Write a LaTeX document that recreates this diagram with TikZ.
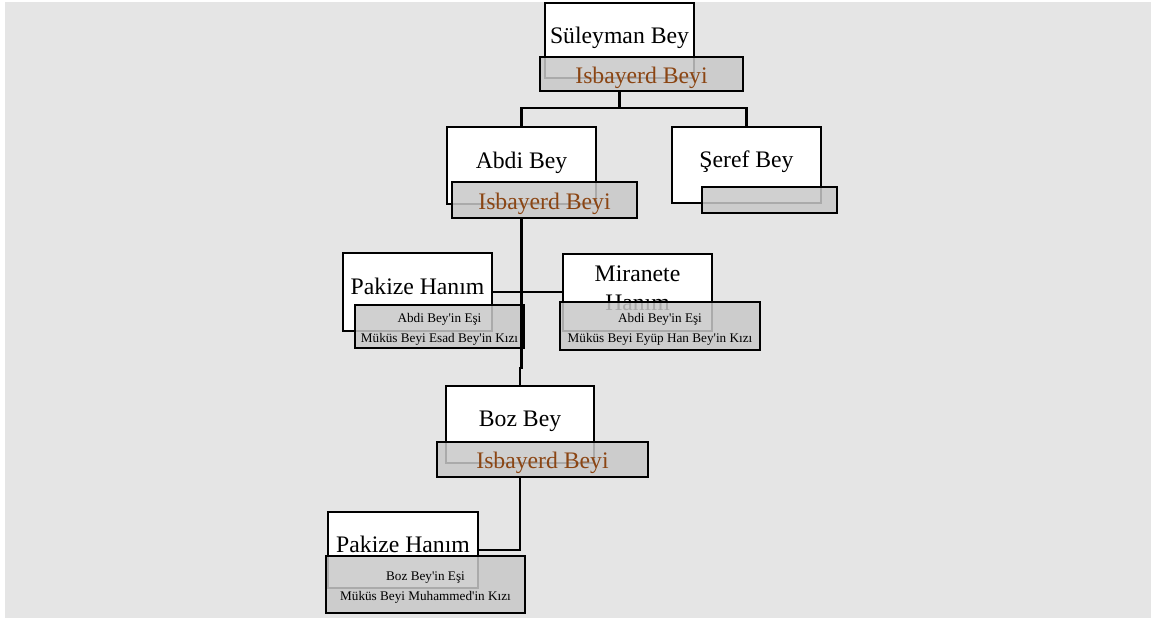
\documentclass[tikz,border=0pt]{standalone}
\usepackage{fontspec}
\setmainfont{Liberation Serif}
\definecolor{bggray}{RGB}{229,229,229}
\definecolor{boxgray}{RGB}{200,200,200}
\definecolor{titlebrown}{RGB}{139,69,19}
\newcommand{\namefont}{\fontsize{23.7}{29}\selectfont}
\newcommand{\notefont}{\fontsize{13.2}{20}\selectfont}
\newcommand{\apo}{\textquotesingle}
\begin{document}
\begin{tikzpicture}[x=1pt,y=-1pt,
  wbox/.style={draw, line width=2.4pt, fill=white, inner sep=0pt, font=\namefont, text depth=11pt},
  gbox/.style={draw, line width=2.4pt, fill=boxgray, fill opacity=0.85, text opacity=1, draw opacity=1, inner sep=0pt, align=center},
  ttl/.style={gbox, font=\namefont, text=titlebrown, text height=19pt, text depth=1pt},
  note/.style={gbox, font=\notefont, text height=35pt, text depth=3pt},
  conn/.style={draw, line width=2.4pt}]
\useasboundingbox (0,0) rectangle (1153,619);
\fill[bggray] (5,2) rectangle (1151,618);
% Süleyman Bey
\node[wbox, minimum width=149pt, minimum height=75pt] (sul) at (619.5,40.5) {Süleyman Bey};
\node[ttl, minimum width=203pt, minimum height=34pt] (sulT) at (641.5,74) {Isbayerd Beyi};
% Abdi Bey
\node[wbox, minimum width=149pt, minimum height=77pt] (abdi) at (521.5,165.5) {Abdi Bey};
\node[ttl, minimum width=185pt, minimum height=36pt] (abdiT) at (544.5,200) {Isbayerd Beyi};
% Şeref Bey
\node[wbox, minimum width=149pt, minimum height=76pt] (seref) at (746.5,165) {Şeref Bey};
\node[gbox, minimum width=135pt, minimum height=26pt] (serefT) at (769.5,200) {};
% Pakize Hanım 1
\node[wbox, minimum width=149pt, minimum height=78pt] (pak1) at (417.5,292) {Pakize Hanım};
\node[note, minimum width=169pt, minimum height=43pt] (pak1T) at (439.5,326.5) {Abdi Bey\apo in Eşi\\Müküs Beyi Esad Bey\apo in Kızı};
% Miranete Hanım
\node[wbox, minimum width=149pt, minimum height=77pt, text width=130pt, align=center, text depth=38pt] (mir) at (637.5,292.5) {Miranete Hanım};
\node[note, minimum width=200pt, minimum height=48pt] (mirT) at (660,326) {Abdi Bey\apo in Eşi\\Müküs Beyi Eyüp Han Bey\apo in Kızı};
% Boz Bey
\node[wbox, minimum width=148pt, minimum height=77pt] (boz) at (520,424.5) {Boz Bey};
\node[ttl, minimum width=211pt, minimum height=35pt] (bozT) at (542.5,459.5) {Isbayerd Beyi};
% Pakize Hanım 2
\node[wbox, minimum width=150pt, minimum height=76pt] (pak2) at (403,550) {Pakize Hanım};
\node[note, minimum width=199pt, minimum height=57pt] (pak2T) at (425.5,584.5) {Boz Bey\apo in Eşi\\Müküs Beyi Muhammed\apo in Kızı};
% connectors
\coordinate (j1) at (619.5,108);
\coordinate (j2) at (521.5,368);
\draw[conn] (sul.south |- sulT.south) -- (j1);
\draw[conn] (abdi.north) |- (j1) -| (seref.north);
\draw[conn] (abdi.south |- abdiT.south) -- (j2) -| (boz.north);
\draw[conn] (pak1.east) -- (pak1.east -| mir.west);
\draw[conn] (boz.south |- bozT.south) |- (pak2.east);
\end{tikzpicture}
\end{document}
